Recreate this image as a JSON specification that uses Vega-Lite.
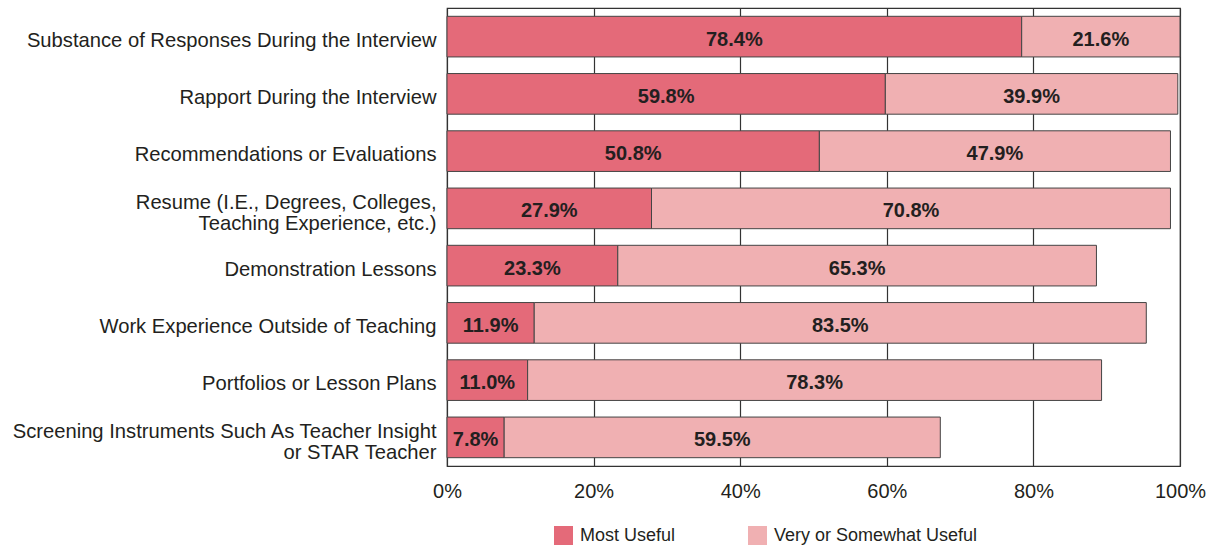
{
  "$schema": "https://vega.github.io/schema/vega-lite/v6.json",
  "autosize": {"type": "none"},
  "padding": {"left": 447, "top": 8, "right": 27, "bottom": 82},
  "width": 733,
  "height": 458,
  "background": "white",
  "config": {
    "font": "Liberation Sans",
    "view": {"stroke": "#333333", "strokeWidth": 1.2},
    "axis": {"labelFont": "Liberation Sans", "labelColor": "#231f20"}
  },
  "data": {
    "values": [
      {"category": "Substance of Responses During the Interview", "type": "Most Useful", "value": 0.784},
      {"category": "Substance of Responses During the Interview", "type": "Very or Somewhat Useful", "value": 0.216},
      {"category": "Rapport During the Interview", "type": "Most Useful", "value": 0.598},
      {"category": "Rapport During the Interview", "type": "Very or Somewhat Useful", "value": 0.399},
      {"category": "Recommendations or Evaluations", "type": "Most Useful", "value": 0.508},
      {"category": "Recommendations or Evaluations", "type": "Very or Somewhat Useful", "value": 0.479},
      {"category": "Resume (I.E., Degrees, Colleges, Teaching Experience, etc.)", "type": "Most Useful", "value": 0.279},
      {"category": "Resume (I.E., Degrees, Colleges, Teaching Experience, etc.)", "type": "Very or Somewhat Useful", "value": 0.708},
      {"category": "Demonstration Lessons", "type": "Most Useful", "value": 0.233},
      {"category": "Demonstration Lessons", "type": "Very or Somewhat Useful", "value": 0.653},
      {"category": "Work Experience Outside of Teaching", "type": "Most Useful", "value": 0.119},
      {"category": "Work Experience Outside of Teaching", "type": "Very or Somewhat Useful", "value": 0.835},
      {"category": "Portfolios or Lesson Plans", "type": "Most Useful", "value": 0.110},
      {"category": "Portfolios or Lesson Plans", "type": "Very or Somewhat Useful", "value": 0.783},
      {"category": "Screening Instruments Such As Teacher Insight or STAR Teacher", "type": "Most Useful", "value": 0.078},
      {"category": "Screening Instruments Such As Teacher Insight or STAR Teacher", "type": "Very or Somewhat Useful", "value": 0.595}
    ]
  },
  "encoding": {
    "y": {
      "field": "category",
      "type": "nominal",
      "sort": null,
      "scale": {"paddingInner": 0.29, "paddingOuter": 0.145},
      "axis": {
        "title": null,
        "domain": false,
        "ticks": false,
        "labelFontSize": 20.2,
        "labelPadding": 11,
        "labelOffset": {"condition": {"test": "length(datum.value) > 50", "value": -5}, "value": 4},
        "labelLimit": 0,
        "labelLineHeight": 21,
        "labelExpr": "datum.label == 'Resume (I.E., Degrees, Colleges, Teaching Experience, etc.)' ? ['Resume (I.E., Degrees, Colleges,', 'Teaching Experience, etc.)'] : datum.label == 'Screening Instruments Such As Teacher Insight or STAR Teacher' ? ['Screening Instruments Such As Teacher Insight', 'or STAR Teacher'] : datum.label"
      }
    }
  },
  "layer": [
    {
      "mark": {"type": "bar", "stroke": "#444444", "strokeWidth": 1},
      "encoding": {
        "x": {
          "field": "value",
          "type": "quantitative",
          "stack": "zero",
          "scale": {"domain": [0, 1], "nice": false},
          "axis": {
            "title": null,
            "values": [0, 0.2, 0.4, 0.6, 0.8, 1],
            "format": ".0%",
            "grid": true,
            "gridColor": "#333333",
            "gridWidth": 1.2,
            "gridOpacity": 1,
            "ticks": false,
            "domain": false,
            "labelFlush": false,
            "labelFontSize": 20,
            "labelPadding": 15
          }
        },
        "color": {
          "field": "type",
          "type": "nominal",
          "scale": {
            "domain": ["Most Useful", "Very or Somewhat Useful"],
            "range": ["#e46a79", "#f0b0b2"]
          },
          "legend": {
            "title": null,
            "orient": "none",
            "direction": "horizontal",
            "legendX": 107,
            "legendY": 518,
            "symbolType": "square",
            "symbolSize": 361,
            "symbolStrokeWidth": 0,
            "symbolOpacity": 1,
            "labelFontSize": 18,
            "labelColor": "#231f20",
            "labelOffset": 7,
            "columnPadding": 72,
            "labelLimit": 0
          }
        }
      }
    },
    {
      "transform": [
        {"stack": "value", "groupby": ["category"], "sort": [{"field": "type"}], "as": ["x0", "x1"]},
        {"fold": ["x0", "x1"], "as": ["edge", "pos"]},
        {"aggregate": [{"op": "mean", "field": "pos", "as": "mid"}], "groupby": ["category", "type", "value"]}
      ],
      "mark": {"type": "text", "fontWeight": "bold", "fontSize": 20, "color": "#231f20", "baseline": "middle", "align": "center", "dy": 3},
      "encoding": {
        "x": {"field": "mid", "type": "quantitative"},
        "text": {"field": "value", "type": "quantitative", "format": ".1%"},
        "y": {"field": "category", "type": "nominal", "sort": null}
      }
    }
  ]
}
